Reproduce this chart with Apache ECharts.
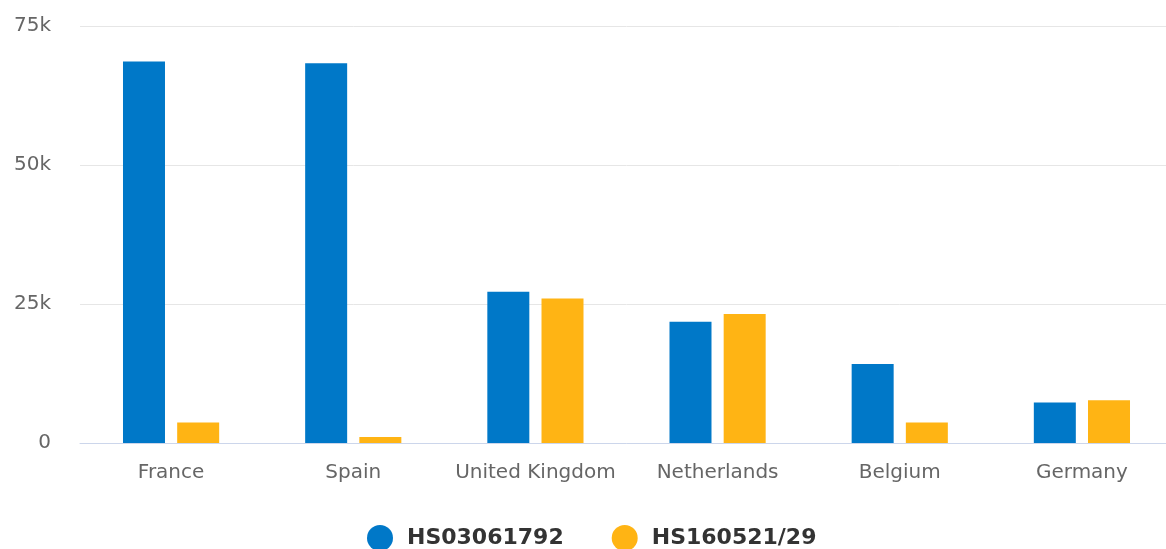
<!DOCTYPE html>
<html>
<head>
<meta charset="utf-8">
<script src="https://cdn.jsdelivr.net/npm/echarts@6/dist/echarts.min.js"></script>
<style>
  html, body { margin: 0; padding: 0; background: #fff; overflow: hidden; }
  #main { width: 1173px; height: 549px; }
</style>
</head>
<body>
<div id="main"></div>
<script>
var countries = ["France", "Spain", "United Kingdom", "Netherlands", "Belgium", "Germany"];
var hs03061792 = [68600, 68300, 27200, 21800, 14200, 7300];
var hs160521 = [3700, 1100, 26000, 23200, 3700, 7700];
var yTicks = [0, 25000, 50000, 75000];

var chartDom = document.getElementById("main");
var myChart = echarts.init(chartDom);
var option;

option = {
  animation: false,
  textStyle: { fontFamily: "DejaVu Sans" },
  grid: {
    left: 80,
    top: 26,
    right: 0,
    bottom: 106
  },
  legend: {
    left: 362,
    top: 520,
    icon: "circle",
    itemWidth: 44,
    itemHeight: 26,
    itemGap: 48,
    textStyle: {
      fontSize: 22,
      fontWeight: "bold",
      color: "#333333",
      fontFamily: "DejaVu Sans"
    }
  },
  xAxis: {
    type: "category",
    data: countries,
    axisTick: { show: false },
    axisLine: { lineStyle: { color: "#ccd6eb", width: 1 } },
    axisLabel: {
      interval: 0,
      margin: 20,
      fontSize: 20,
      color: "#666666",
      fontFamily: "DejaVu Sans"
    }
  },
  yAxis: {
    type: "value",
    min: yTicks[0],
    max: yTicks[yTicks.length - 1],
    interval: yTicks[1] - yTicks[0],
    axisLine: { show: false },
    axisTick: { show: false },
    splitLine: { lineStyle: { color: "#e6e6e6", width: 1 } },
    axisLabel: {
      margin: 29,
      fontSize: 20,
      color: "#666666",
      fontFamily: "DejaVu Sans",
      formatter: function (value) {
        return value === 0 ? "0" : value / 1000 + "k";
      }
    }
  },
  series: [
    {
      name: "HS03061792",
      type: "bar",
      data: hs03061792,
      barWidth: 42,
      barGap: "29%",
      itemStyle: { color: "#0078c8" }
    },
    {
      name: "HS160521/29",
      type: "bar",
      data: hs160521,
      barWidth: 42,
      barGap: "29%",
      itemStyle: { color: "#ffb414" }
    }
  ]
};

option && myChart.setOption(option, true);
</script>
</body>
</html>
